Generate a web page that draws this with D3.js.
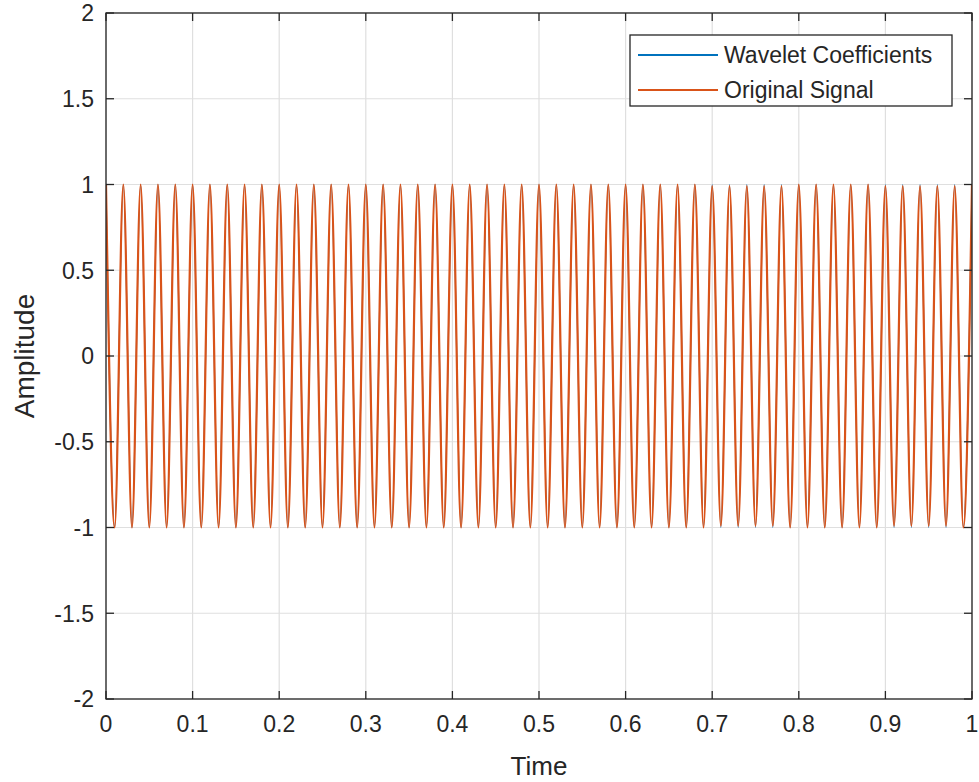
<!DOCTYPE html>
<html>
<head>
<meta charset="utf-8">
<script src="https://cdn.jsdelivr.net/npm/d3@7"></script>
<style>
  html, body { margin: 0; padding: 0; background: #fff; }
  svg { display: block; font-family: "Liberation Sans", Arial, Helvetica, sans-serif; }
</style>
</head>
<body>
<svg id="chart" width="979" height="782"></svg>
<script>
// ---- data (extreme points of each cycle) ----
const times = [
  0.00,0.01,0.02,0.03,0.04,0.05,0.06,0.07,0.08,0.09,
  0.10,0.11,0.12,0.13,0.14,0.15,0.16,0.17,0.18,0.19,
  0.20,0.21,0.22,0.23,0.24,0.25,0.26,0.27,0.28,0.29,
  0.30,0.31,0.32,0.33,0.34,0.35,0.36,0.37,0.38,0.39,
  0.40,0.41,0.42,0.43,0.44,0.45,0.46,0.47,0.48,0.49,
  0.50,0.51,0.52,0.53,0.54,0.55,0.56,0.57,0.58,0.59,
  0.60,0.61,0.62,0.63,0.64,0.65,0.66,0.67,0.68,0.69,
  0.70,0.71,0.72,0.73,0.74,0.75,0.76,0.77,0.78,0.79,
  0.80,0.81,0.82,0.83,0.84,0.85,0.86,0.87,0.88,0.89,
  0.90,0.91,0.92,0.93,0.94,0.95,0.96,0.97,0.98,0.99,
  1.00
];
const waveletCoefficients = [
  1,-1,1,-1,1,-1,1,-1,1,-1,
  1,-1,1,-1,1,-1,1,-1,1,-1,
  1,-1,1,-1,1,-1,1,-1,1,-1,
  1,-1,1,-1,1,-1,1,-1,1,-1,
  1,-1,1,-1,1,-1,1,-1,1,-1,
  1,-1,1,-1,1,-1,1,-1,1,-1,
  1,-1,1,-1,1,-1,1,-1,1,-1,
  1,-1,1,-1,1,-1,1,-1,1,-1,
  1,-1,1,-1,1,-1,1,-1,1,-1,
  1,-1,1,-1,1,-1,1,-1,1,-1,
  1
];
const originalSignal = [
  1,-1,1,-1,1,-1,1,-1,1,-1,
  1,-1,1,-1,1,-1,1,-1,1,-1,
  1,-1,1,-1,1,-1,1,-1,1,-1,
  1,-1,1,-1,1,-1,1,-1,1,-1,
  1,-1,1,-1,1,-1,1,-1,1,-1,
  1,-1,1,-1,1,-1,1,-1,1,-1,
  1,-1,1,-1,1,-1,1,-1,1,-1,
  0.99,-0.99,0.99,-0.99,0.99,-0.99,0.99,-0.99,0.99,-1,
  1,-1,1,-1,1,-1,1,-1,1,-1,
  0.99,-0.99,0.99,-0.99,0.99,-0.99,0.99,-0.99,0.99,-1,
  1
];
const xTicks = [0,0.1,0.2,0.3,0.4,0.5,0.6,0.7,0.8,0.9,1];
const xTickLabels = ["0","0.1","0.2","0.3","0.4","0.5","0.6","0.7","0.8","0.9","1"];
const yTicks = [-2,-1.5,-1,-0.5,0,0.5,1,1.5,2];
const yTickLabels = ["-2","-1.5","-1","-0.5","0","0.5","1","1.5","2"];
const seriesNames = ["Wavelet Coefficients","Original Signal"];
const seriesColors = ["#0072BD","#D95319"];

// ---- layout ----
const W = 979, H = 782;
const m = {left: 106, right: 7, top: 13, bottom: 83};
const pw = W - m.left - m.right, ph = H - m.top - m.bottom;
const svg = d3.select("#chart");

const x = d3.scaleLinear().domain([0,1]).range([m.left, m.left + pw]);
const y = d3.scaleLinear().domain([-2,2]).range([m.top + ph, m.top]);

// grid
const grid = svg.append("g");
grid.selectAll("line.gx").data(xTicks).enter().append("line")
  .attr("x1", d => x(d)).attr("x2", d => x(d))
  .attr("y1", m.top).attr("y2", m.top + ph)
  .attr("stroke", "#dfdfdf").attr("stroke-width", 1.2);
grid.selectAll("line.gy").data(yTicks).enter().append("line")
  .attr("y1", d => y(d)).attr("y2", d => y(d))
  .attr("x1", m.left).attr("x2", m.left + pw)
  .attr("stroke", "#dfdfdf").attr("stroke-width", 1.2);

// clip
svg.append("clipPath").attr("id","clip").append("rect")
  .attr("x", m.left).attr("y", m.top).attr("width", pw).attr("height", ph);

const line = d3.line().curve(d3.curveMonotoneX);
const plot = svg.append("g").attr("clip-path", "url(#clip)");
[waveletCoefficients, originalSignal].forEach((vals, i) => {
  plot.append("path")
    .datum(times.map((t, k) => [x(t), y(vals[k])]))
    .attr("d", line)
    .attr("fill", "none")
    .attr("stroke", seriesColors[i])
    .attr("stroke-width", i === 0 ? 1.2 : 2.2)
    .attr("stroke-linejoin", "round");
});

// axes (box with inward ticks on all sides)
const axColor = "#262626";
const tickLen = 8;
const axes = svg.append("g");
axes.append("rect").attr("x", m.left).attr("y", m.top).attr("width", pw).attr("height", ph)
  .attr("fill", "none").attr("stroke", axColor).attr("stroke-width", 1.3);
xTicks.forEach(d => {
  axes.append("line").attr("x1", x(d)).attr("x2", x(d)).attr("y1", m.top + ph).attr("y2", m.top + ph - tickLen)
    .attr("stroke", axColor).attr("stroke-width", 1.3);
  axes.append("line").attr("x1", x(d)).attr("x2", x(d)).attr("y1", m.top).attr("y2", m.top + tickLen)
    .attr("stroke", axColor).attr("stroke-width", 1.3);
});
yTicks.forEach(d => {
  axes.append("line").attr("y1", y(d)).attr("y2", y(d)).attr("x1", m.left).attr("x2", m.left + tickLen)
    .attr("stroke", axColor).attr("stroke-width", 1.3);
  axes.append("line").attr("y1", y(d)).attr("y2", y(d)).attr("x1", m.left + pw).attr("x2", m.left + pw - tickLen)
    .attr("stroke", axColor).attr("stroke-width", 1.3);
});

// tick labels
const tickFont = 23;
svg.append("g").selectAll("text").data(xTicks).enter().append("text")
  .attr("x", d => x(d)).attr("y", m.top + ph + 33)
  .attr("text-anchor", "middle").attr("font-size", tickFont).attr("fill", axColor)
  .text((d, i) => xTickLabels[i]);
svg.append("g").selectAll("text").data(yTicks).enter().append("text")
  .attr("x", m.left - 12).attr("y", d => y(d)).attr("dy", "0.36em")
  .attr("text-anchor", "end").attr("font-size", tickFont).attr("fill", axColor)
  .text((d, i) => yTickLabels[i]);

// axis labels
svg.append("text").attr("x", x(0.5)).attr("y", 775)
  .attr("text-anchor", "middle").attr("font-size", 26).attr("fill", axColor).text("Time");
svg.append("text").attr("transform", `translate(34,${y(0)}) rotate(-90)`)
  .attr("text-anchor", "middle").attr("font-size", 28).attr("fill", axColor).text("Amplitude");

// legend
const lg = svg.append("g");
lg.append("rect").attr("x", 630).attr("y", 35).attr("width", 322).attr("height", 71)
  .attr("fill", "#fff").attr("stroke", axColor).attr("stroke-width", 1.3);
seriesNames.forEach((name, i) => {
  const cy = 55 + i * 35;
  lg.append("line").attr("x1", 638).attr("x2", 718).attr("y1", cy).attr("y2", cy)
    .attr("stroke", seriesColors[i]).attr("stroke-width", 1.8);
  lg.append("text").attr("x", 724).attr("y", cy).attr("dy", "0.36em")
    .attr("font-size", 23).attr("fill", axColor).text(name);
});
</script>
</body>
</html>
